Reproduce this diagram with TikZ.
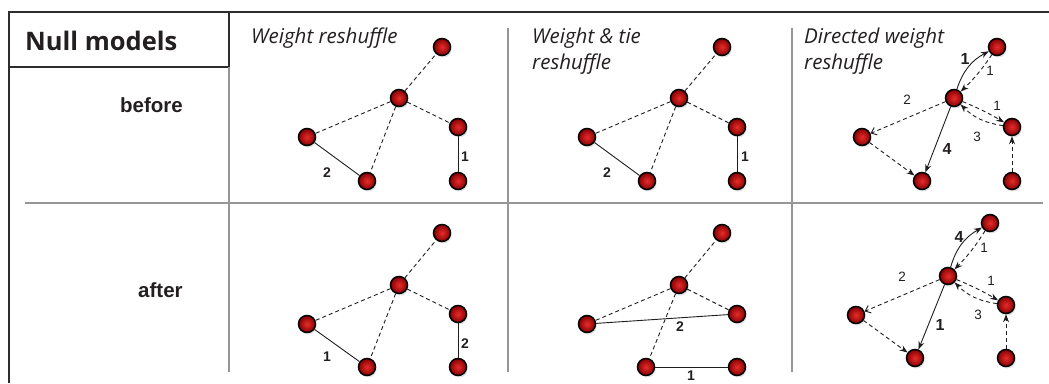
\documentclass[tikz,border=0pt]{standalone}
\usepackage{fontspec}
\setmainfont{Liberation Sans}
\newfontfamily\myriad{Open Sans}
\usetikzlibrary{arrows.meta,shadows}
\definecolor{ballin}{RGB}{230,45,40}
\definecolor{ballout}{RGB}{135,0,5}
\definecolor{framecol}{RGB}{45,45,45}
\definecolor{sepcol}{RGB}{150,150,150}
\definecolor{edgecol}{RGB}{30,30,30}
\definecolor{textcol}{RGB}{35,31,32}
\tikzset{
  ball/.style={circle, draw=black, line width=1.5pt, minimum size=17pt, inner sep=0pt,
    inner color=ballin, outer color=ballout,
    drop shadow={opacity=0.22, shadow xshift=1.2pt, shadow yshift=-2pt}},
  frameline/.style={draw=framecol, line width=1.8pt},
  sepline/.style={draw=sepcol, line width=1.4pt},
  und/.style={draw=edgecol, line width=0.9pt},
  dsh/.style={und, dash pattern=on 4pt off 3pt},
  arr/.style={-{Stealth[length=8pt,width=6pt]}},
  barb/.style={-{Straight Barb[length=5pt,width=8pt]}},
  wlab/.style={font=\fontsize{14}{16}\selectfont\bfseries, inner sep=0pt, text=textcol},
  blab/.style={font=\fontsize{16}{18}\selectfont\bfseries, inner sep=0pt, text=textcol},
  nlab/.style={font=\fontsize{13.5}{15}\selectfont, inner sep=0pt, text=textcol},
  coltitle/.style={font=\myriad\itshape\fontsize{20.5}{26}\selectfont, align=left, inner sep=0pt, anchor=north west, text=textcol},
  rowtitle/.style={font=\fontsize{20.5}{24}\selectfont\bfseries, inner sep=0pt, anchor=base west, text=textcol},
}
\begin{document}
\begin{tikzpicture}[x=1pt, y=-1pt]
\useasboundingbox (0,0) rectangle (1049,383);
% frame
\draw[frameline] (9,383) -- (9,12) -- (1049,12);
\draw[frameline] (9,67) -- (229,67) -- (229,12);
\draw[sepline] (229,67) -- (229,372);
\draw[sepline] (25,203) -- (1043,203);
\draw[sepline] (508,28) -- (508,372);
\draw[sepline] (792,28) -- (792,372);
% titles
\node[font=\myriad\bfseries\fontsize{25.5}{30}\selectfont, inner sep=0pt, anchor=base west, text=textcol] (tnull) at (25,50) {Null models};
\node[rowtitle] (tbefore) at (120,112) {before};
\node[rowtitle] (tafter) at (138,297) {after};
\node[coltitle] (tw) at (251,28) {Weight reshuffle};
\node[coltitle] (twt) at (532,28) {Weight \& tie\\reshuffle};
\node[coltitle] (tdw) at (804,28) {Directed weight\\reshuffle};
% panel 1
\node[ball] (aT) at (442,47) {};
\node[ball] (aC) at (399,98) {};
\node[ball] (aR) at (458,127) {};
\node[ball] (aL) at (307,137) {};
\node[ball] (aB) at (367,181) {};
\node[ball] (aBR) at (458,181) {};
\draw[dsh] (aC) -- (aT);
\draw[dsh] (aC) -- (aL);
\draw[dsh] (aC) -- (aR);
\draw[dsh] (aC) -- (aB);
\draw[und] (aL) -- (aB);
\draw[und] (aR) -- (aBR);
\node[wlab] (a2) at (327,173) {2};
\node[wlab] (a1) at (465,157) {1};
% panel 2
\node[ball] (bT) at (722,47) {};
\node[ball] (bC) at (679,98) {};
\node[ball] (bR) at (737,127) {};
\node[ball] (bL) at (587,137) {};
\node[ball] (bB) at (647,181) {};
\node[ball] (bBR) at (737,181) {};
\draw[dsh] (bC) -- (bT);
\draw[dsh] (bC) -- (bL);
\draw[dsh] (bC) -- (bR);
\draw[dsh] (bC) -- (bB);
\draw[und] (bL) -- (bB);
\draw[und] (bR) -- (bBR);
\node[wlab] (b2) at (607,173) {2};
\node[wlab] (b1) at (745,157) {1};
% panel 3
\node[ball] (cT) at (997,47) {};
\node[ball] (cC) at (954,98) {};
\node[ball] (cR) at (1012,127) {};
\node[ball] (cL) at (862,137) {};
\node[ball] (cB) at (922,181) {};
\node[ball] (cBR) at (1012,181) {};
\draw[und, arr] (cC) to[bend left=22] (cT);
\draw[dsh, arr] (cT) to[bend left=6] (cC);
\draw[dsh, barb] (cC) -- (cL);
\draw[dsh, arr] (cC) to[bend left=4] (cR);
\draw[dsh, arr] (cR) to[bend left=18] (cC);
\draw[und, arr] (cC) -- (cB);
\draw[dsh, arr] (cL) -- (cB);
\draw[dsh, arr] (cBR) -- (cR);
\node[blab] (c1a) at (965,59) {1};
\node[nlab] (c1b) at (990,71) {1};
\node[nlab] (c2) at (907,100) {2};
\node[nlab] (c1c) at (997,106) {1};
\node[nlab] (c3) at (977,137) {3};
\node[blab] (c4) at (947,149) {4};
% panel 4
\node[ball] (dT) at (442,233) {};
\node[ball] (dC) at (399,285) {};
\node[ball] (dR) at (458,314) {};
\node[ball] (dL) at (307,324) {};
\node[ball] (dB) at (367,367) {};
\node[ball] (dBR) at (458,367) {};
\draw[dsh] (dC) -- (dT);
\draw[dsh] (dC) -- (dL);
\draw[dsh] (dC) -- (dR);
\draw[dsh] (dC) -- (dB);
\draw[und] (dL) -- (dB);
\draw[und] (dR) -- (dBR);
\node[wlab] (d1) at (327,357) {1};
\node[wlab] (d2) at (465,344) {2};
% panel 5
\node[ball] (eT) at (722,233) {};
\node[ball] (eC) at (679,285) {};
\node[ball] (eR) at (737,314) {};
\node[ball] (eL) at (587,324) {};
\node[ball] (eB) at (646,367) {};
\node[ball] (eBR) at (737,367) {};
\draw[dsh] (eC) -- (eT);
\draw[dsh] (eC) -- (eL);
\draw[dsh] (eC) -- (eR);
\draw[dsh] (eC) -- (eB);
\draw[und] (eL) -- (eR);
\draw[und] (eB) -- (eBR);
\node[wlab] (e2) at (680,327) {2};
\node[wlab] (e1) at (691,376) {1};
% panel 6
\node[ball] (fT) at (990,223) {};
\node[ball] (fC) at (948,276) {};
\node[ball] (fR) at (1006,305) {};
\node[ball] (fL) at (856,315) {};
\node[ball] (fB) at (915,358) {};
\node[ball] (fBR) at (1006,358) {};
\draw[und, arr] (fC) to[bend left=22] (fT);
\draw[dsh, arr] (fT) to[bend left=6] (fC);
\draw[dsh, barb] (fC) -- (fL);
\draw[dsh, arr] (fC) to[bend left=4] (fR);
\draw[dsh, arr] (fR) to[bend left=18] (fC);
\draw[und, arr] (fC) -- (fB);
\draw[dsh, arr] (fL) -- (fB);
\draw[dsh, arr] (fBR) -- (fR);
\node[blab] (f4) at (959,237) {4};
\node[nlab] (f1a) at (984,248) {1};
\node[nlab] (f2) at (902,277) {2};
\node[nlab] (f1b) at (991,281) {1};
\node[nlab] (f3) at (978,315) {3};
\node[blab] (f1c) at (940,325) {1};
\end{tikzpicture}
\end{document}
